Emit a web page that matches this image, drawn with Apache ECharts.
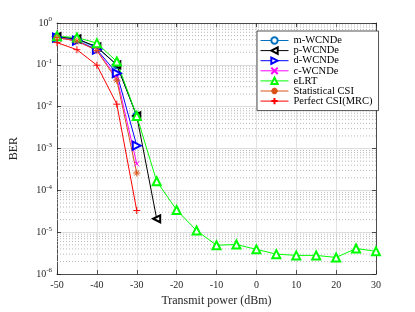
<!DOCTYPE html>
<html><head><meta charset="utf-8">
<script src="https://cdn.jsdelivr.net/npm/echarts@6/dist/echarts.min.js"></script>
<style>html,body{margin:0;padding:0;background:#fff}#c{width:415px;height:312px}</style>
</head><body><div id="c"></div>
<script>
const xCat = [-50,-45,-40,-35,-30,-25,-20,-15,-10,-5,0,5,10,15,20,25,30];
const mWCNDe = [0.46,0.41,0.26,0.10,6.0e-3];
const pWCNDe = [0.47,0.42,0.27,0.10,6.0e-3,2.1e-5];
const dWCNDe = [0.45,0.38,0.23,0.063,1.17e-3];
const cWCNDe = [0.45,0.37,0.22,0.050,4.3e-4];
const eLRT = [0.48,0.45,0.33,0.12,6.0e-3,1.65e-4,3.4e-5,1.1e-5,4.9e-6,5.1e-6,3.9e-6,3.0e-6,2.8e-6,2.8e-6,2.5e-6,4.1e-6,3.5e-6];
const statCSI = [0.45,0.37,0.22,0.043,2.6e-4];
const perfCSI = [0.34,0.23,0.098,0.0115,3.3e-5];
const xTicks = [-50,-40,-30,-20,-10,0,10,20,30];
const yTickExp = [0,-1,-2,-3,-4,-5,-6];

const F = 'Liberation Serif';
const pair = arr => arr.map((v,i)=>[xCat[i],v]);
const minorVals = [];
for (let d=-6; d<0; d++) for (let k=2;k<=9;k++) minorVals.push(k*Math.pow(10,d));

const P_X = 'path://M0,0L10,10M10,0L0,10';
const P_PLUS = 'path://M5,0L5,10M0,5L10,5';
const P_STAR = 'path://M5,0L5,10M0,5L10,5M1.5,1.5L8.5,8.5M8.5,1.5L1.5,8.5';

function ser(name, data, color, symbol, size, rot){
  return {name, type:'line', data:pair(data), color, symbol, symbolSize:size, symbolRotate:rot||0, z:3,
    lineStyle:{width:1,color,type:'solid'}, itemStyle:{color, borderColor:color, borderWidth:1}, emphasis:{disabled:true}, animation:false};
}
const minorSeries = [{type:'line', name:'_minor', symbol:'none', silent:true, z:1, connectNulls:false,
  data: minorVals.flatMap(v=>[[-50,v],[30,v],[30,'-']]),
  lineStyle:{color:'#b8b8b8', type:[1,2], width:1}, emphasis:{disabled:true}, animation:false}];
const axisLineStyle = {color:'#262626', width:0.8};
const chart = echarts.init(document.getElementById('c'));
chart.setOption({
  animation:false,
  grid:{left:55,right:39,top:23,bottom:35},
  xAxis:[{type:'value', min:-50, max:30, interval:10, position:'bottom',
    axisLine:{onZero:false, lineStyle:axisLineStyle}, axisTick:{inside:true,length:4,lineStyle:axisLineStyle},
    axisLabel:{fontFamily:F,fontSize:10,color:'#262626',margin:6, formatter:v=>xTicks.includes(v)?String(v):''},
    splitLine:{show:true,lineStyle:{color:'#e3e3e3',width:1}},
    name:'Transmit power (dBm)', nameLocation:'middle', nameGap:20, nameTextStyle:{fontFamily:F,fontSize:12,color:'#262626'}},
   {type:'value', min:-50, max:30, interval:10, position:'top',
    axisLine:{onZero:false, lineStyle:axisLineStyle}, axisTick:{inside:true,length:4,lineStyle:axisLineStyle},
    axisLabel:{show:false}, splitLine:{show:false}}],
  yAxis:[{type:'log', logBase:10, min:1e-6, max:1, position:'left',
    axisLine:{onZero:false, lineStyle:axisLineStyle}, axisTick:{inside:true,length:4,lineStyle:axisLineStyle},
    axisLabel:{fontFamily:F,fontSize:10,color:'#262626',margin:5,
      formatter:v=>{const e=Math.round(Math.log10(v)); return yTickExp.includes(e)?'10{s|'+e+'}':'';},
      rich:{s:{fontFamily:F,fontSize:7,verticalAlign:'bottom',padding:[0,0,7,0],color:'#262626'}}},
    splitLine:{show:true,lineStyle:{color:'#dcdcdc',width:1}},
    name:'BER', nameLocation:'middle', nameGap:37, nameRotate:90, nameTextStyle:{fontFamily:F,fontSize:12,color:'#262626'}},
   {type:'log', logBase:10, min:1e-6, max:1, position:'right',
    axisLine:{onZero:false, lineStyle:axisLineStyle}, axisTick:{inside:true,length:4,lineStyle:axisLineStyle},
    axisLabel:{show:false}, splitLine:{show:false}}],
  legend:{orient:'vertical', left:257, top:31, itemWidth:28, itemHeight:8, itemGap:-0.9,
    padding:[4,6,4,3], borderColor:'#262626', borderWidth:0.8, backgroundColor:'#fff',
    lineStyle:{type:'solid', width:1},
    textStyle:{fontFamily:F,fontSize:10.5,lineHeight:10,color:'#000'},
    data:['m-WCNDe','p-WCNDe','d-WCNDe','c-WCNDe','eLRT','Statistical CSI','Perfect CSI(MRC)']},
  series:[
    ...minorSeries,
    ser('m-WCNDe', mWCNDe, '#0072BD', 'emptyCircle', 7),
    ser('p-WCNDe', pWCNDe, '#000000', 'emptyTriangle', 7, 90),
    ser('d-WCNDe', dWCNDe, '#0000FF', 'emptyTriangle', 8, -90),
    ser('c-WCNDe', cWCNDe, '#FF00FF', P_X, 5),
    ser('eLRT', eLRT, '#00FF00', 'emptyTriangle', 8),
    ser('Statistical CSI', statCSI, '#D95319', P_STAR, 7),
    ser('Perfect CSI(MRC)', perfCSI, '#FF0000', P_PLUS, 7)
  ]
});
</script></body></html>
